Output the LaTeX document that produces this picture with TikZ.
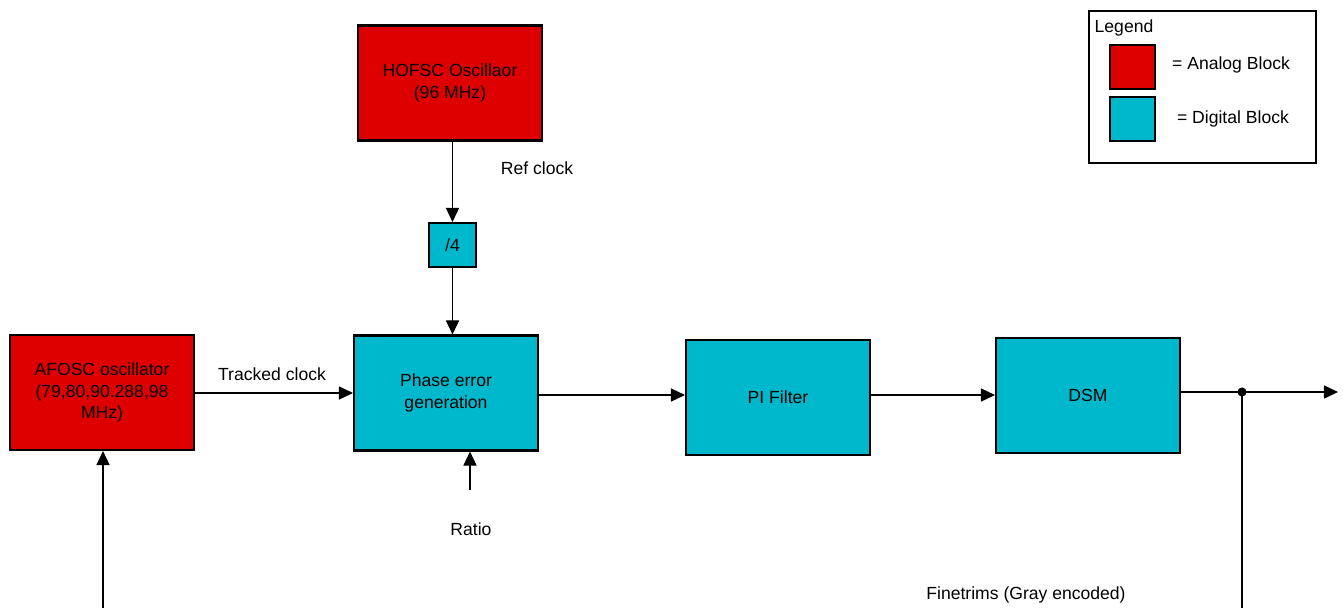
\documentclass[tikz,border=0pt]{standalone}
\usepackage{fontspec}
\setmainfont{Liberation Sans}
\usepackage{tikz}
\usetikzlibrary{arrows.meta,positioning}
\definecolor{analogred}{RGB}{222,0,0}
\definecolor{digitalcyan}{RGB}{0,184,204}

\begin{document}
\begin{tikzpicture}[x=0.2mm,y=-0.2mm,font=\fontsize{10}{12.3}\selectfont]
    \tikzset{blk/.style={draw=black,line width=1.2pt,minimum width=36.8mm,minimum height=23mm,align=center,inner sep=1pt},
             analog/.style={blk,fill=analogred},
             digital/.style={blk,fill=digitalcyan},
             sig/.style={line width=0.6pt,-{Triangle[length=8pt,width=7.5pt]}},
             lbl/.style={inner sep=0pt}}
    \useasboundingbox (0,0) rectangle (1343,608);
    % blocks
    \node[analog] (hofsc) at (450,83) {HOFSC Oscillaor\\(96 MHz)};
    \node[digital,minimum width=9.4mm,minimum height=8.8mm] (div) at (452.5,245) {/4};
    \node[digital] (phase) at (446,393) {Phase error\\generation};
    \node[analog] (afosc) at (102,392.5) {AFOSC oscillator\\(79,80,90.288,98\\MHz)};
    \node[digital] (pi) at (778,397.5) {PI Filter};
    \node[digital] (dsm) at (1088,395.5) {DSM};
    % legend
    \node[draw=black,line width=1.2pt,minimum width=45.4mm,minimum height=30.4mm] (legend) at (1202.5,87) {};
    \node[lbl] (legendtitle) at (1124,28) {Legend};
    \node[analog,minimum width=9mm,minimum height=8.8mm] (keyred) at (1132.5,67) {};
    \node[digital,minimum width=9mm,minimum height=8.8mm] (keycyan) at (1132.5,119) {};
    \node[lbl] (keyredtxt) at (1231,65) {= Analog Block};
    \node[lbl] (keycyantxt) at (1233,119) {= Digital Block};
    % connections
    \draw[sig] (hofsc.south -| div) -- (div.north);
    \node[lbl] (refclk) at (537,168) {Ref clock};
    \draw[sig] (div.south) -- (div.south |- phase.north);
    \draw[sig] (afosc.east |- phase.west) -- (phase.west);
    \node[lbl] (trkclk) at (272,374) {Tracked clock};
    \coordinate (ratioin) at (470,490);
    \draw[sig] (ratioin) -- (ratioin |- phase.south);
    \node[lbl] (ratio) at (471,529) {Ratio};
    \draw[sig] (phase.east |- 0,395) -- (pi.west |- 0,395);
    \draw[sig] (pi.east |- 0,395) -- (dsm.west |- 0,395);
    \coordinate (tap) at (1242,392);
    \coordinate (out) at (1338,392);
    \draw[line width=0.6pt] (dsm.east |- tap) -- (tap);
    \draw[sig] (tap) -- (out);
    \fill (tap) circle (2.6pt);
    \coordinate (fbend) at (1242,608);
    \draw[line width=0.6pt] (tap) -- (fbend);
    \coordinate (fbin) at (103,608);
    \draw[sig] (fbin) -- (fbin |- afosc.south);
    \node[lbl] (finetrims) at (1026,595) {Finetrims (Gray encoded)};
\end{tikzpicture}
\end{document}
